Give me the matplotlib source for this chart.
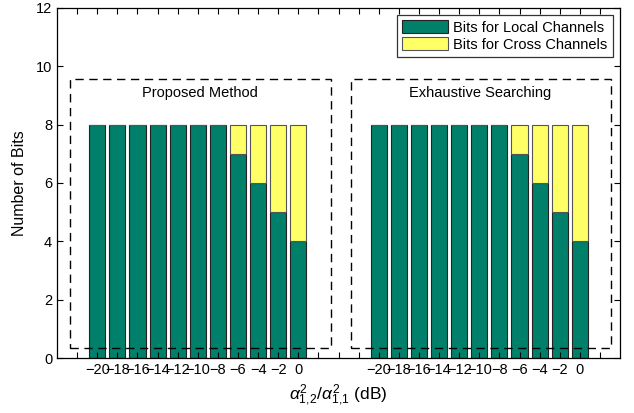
import numpy as np
import matplotlib.pyplot as plt
from matplotlib.patches import Rectangle

plt.rcParams['font.family'] = ['Liberation Sans', 'DejaVu Sans']
plt.rcParams['mathtext.fontset'] = 'custom'
plt.rcParams['mathtext.rm'] = 'Liberation Sans'
plt.rcParams['mathtext.it'] = 'Liberation Sans:italic'

# data
snr_labels = ['-20', '-18', '-16', '-14', '-12', '-10', '-8', '-6', '-4', '-2', '0']
local_proposed = [8, 8, 8, 8, 8, 8, 8, 7, 6, 5, 4]
cross_proposed = [0, 0, 0, 0, 0, 0, 0, 1, 2, 3, 4]
local_exhaustive = [8, 8, 8, 8, 8, 8, 8, 7, 6, 5, 4]
cross_exhaustive = [0, 0, 0, 0, 0, 0, 0, 1, 2, 3, 4]
group_names = ['Proposed Method', 'Exhaustive Searching']

green = '#00806a'
yellow = '#ffff66'

fig = plt.figure(figsize=(6.34, 4.13), dpi=100)
ax = fig.add_axes([0.09, 0.133, 0.888, 0.848])

n = len(snr_labels)
pos1 = np.arange(1, n + 1)
pos2 = pos1 + 14

for pos, loc, cr in [(pos1, local_proposed, cross_proposed),
                     (pos2, local_exhaustive, cross_exhaustive)]:
    ax.bar(pos, loc, width=0.8, color=green, edgecolor='#222222', linewidth=0.8)
    ax.bar(pos, cr, width=0.8, bottom=loc, color=yellow, edgecolor='#555555', linewidth=0.8)

# legend handles
h1 = Rectangle((0, 0), 1, 1, facecolor=green, edgecolor='#222222', linewidth=0.8)
h2 = Rectangle((0, 0), 1, 1, facecolor=yellow, edgecolor='#555555', linewidth=0.8)
leg = ax.legend([h1, h2], ['Bits for Local Channels', 'Bits for Cross Channels'],
                loc='upper right', fontsize=10.5, frameon=True, fancybox=False,
                borderpad=0.35, handlelength=3.1, handleheight=0.95, handletextpad=0.4,
                labelspacing=0.2, borderaxespad=0.5)
leg.get_frame().set_edgecolor('black')
leg.get_frame().set_linewidth(0.9)

# dashed group boxes
for x0, name in [(-0.35, group_names[0]), (13.6, group_names[1])]:
    ax.add_patch(Rectangle((x0, 0.35), 12.95, 9.2, fill=False, linestyle=(0, (6, 4)),
                           edgecolor='black', linewidth=1.0, zorder=5))
    ax.text(x0 + 6.45, 9.08, name, ha='center', va='center', fontsize=10.5)

ax.set_xlim(-1, 27)
ax.set_ylim(0, 12)
ticks = np.arange(0, 27)
ax.set_xticks(ticks)
labels = [''] * len(ticks)
for i, p in enumerate(pos1):
    labels[p] = snr_labels[i].replace('-', '\u2212')
for i, p in enumerate(pos2):
    labels[p] = snr_labels[i].replace('-', '\u2212')
ax.set_xticklabels(labels)
ax.set_yticks(np.arange(0, 13, 2))
ax.tick_params(direction='in', top=True, right=True, length=4, width=0.8, labelsize=10.5)
for s in ax.spines.values():
    s.set_linewidth(0.9)

ax.set_ylabel('Number of Bits', fontsize=11.5, labelpad=6)
ax.set_xlabel(r'$\alpha^2_{\rm 1,\!2}/\alpha^2_{\rm 1,\!1}$ (dB)', fontsize=12.5, labelpad=4)

fig.savefig('out.png', dpi=100)
